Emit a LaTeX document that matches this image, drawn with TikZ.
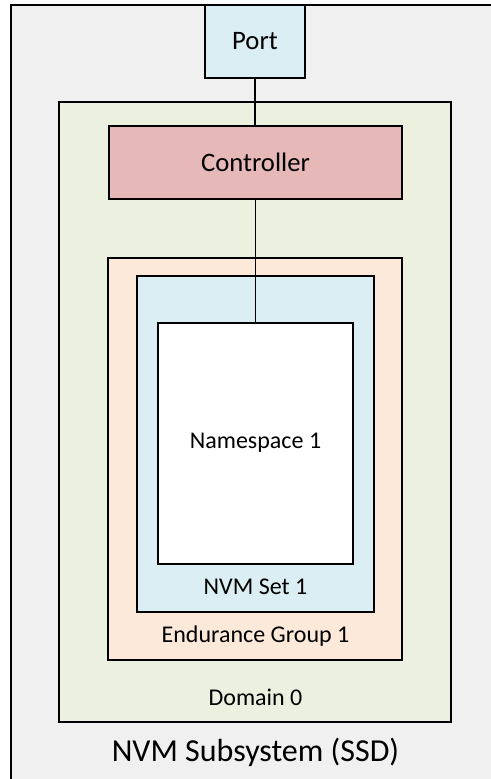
\documentclass[tikz,border=0pt]{standalone}
\usepackage{fontspec}
\setmainfont{Carlito}
\usetikzlibrary{fit}

\definecolor{ssdgray}{HTML}{F0F0F0}
\definecolor{portblue}{HTML}{DAEEF3}
\definecolor{domgreen}{HTML}{EBF1DE}
\definecolor{ctrlred}{HTML}{E6B8B7}
\definecolor{endorange}{HTML}{FDE9D9}

\begin{document}
\begin{tikzpicture}[x=0.75pt, y=-0.75pt,
	main/.style={rectangle, draw=black, line width=0.9pt, inner sep=0pt},
	lbl/.style={font=\fontsize{18}{21}\selectfont},
	big/.style={font=\fontsize{20}{24}\selectfont}
	]
	\useasboundingbox (0,0) rectangle (491,779);

	% containers, outermost first
	\node (ssd) [main, fill=ssdgray, fit={(11,5) (500,790)}] {};
	\node (domain) [main, fill=domgreen, fit={(59,102) (451,722)}] {};
	\node (port) [main, fill=portblue, fit={(205,5) (305,78)}] {};
	\node (ctrl) [main, fill=ctrlred, fit={(109,126) (402,199)}] {};
	\node (endgrp) [main, fill=endorange, fit={(108,258) (402,660)}] {};
	\node (nvmset) [main, fill=portblue, fit={(137,276) (374,612)}] {};
	\node (ns) [main, fill=white, fit={(158,323) (353,564)}] {};

	% labels
	\node (portlbl) [big] at (port.center) {Port};
	\node (ctrllbl) [big] at (ctrl.center) {Controller};
	\node (nslbl) [lbl] at (255.5,443) {Namespace 1};
	\node (setlbl) [lbl] at (255.5,587) {NVM Set 1};
	\node (endlbl) [lbl] at (255.5,636) {Endurance Group 1};
	\node (domlbl) [lbl] at (255.5,697) {Domain 0};
	\node (ssdlbl) [font=\fontsize{24}{28}\selectfont] at (255.5,752) {NVM Subsystem (SSD)};

	\draw [line width=0.9pt] (port.south)--(port.south|-ctrl.north);
	\draw [line width=0.9pt] (ctrl.south)--(ctrl.south|-ns.north);

\end{tikzpicture}
\end{document}
